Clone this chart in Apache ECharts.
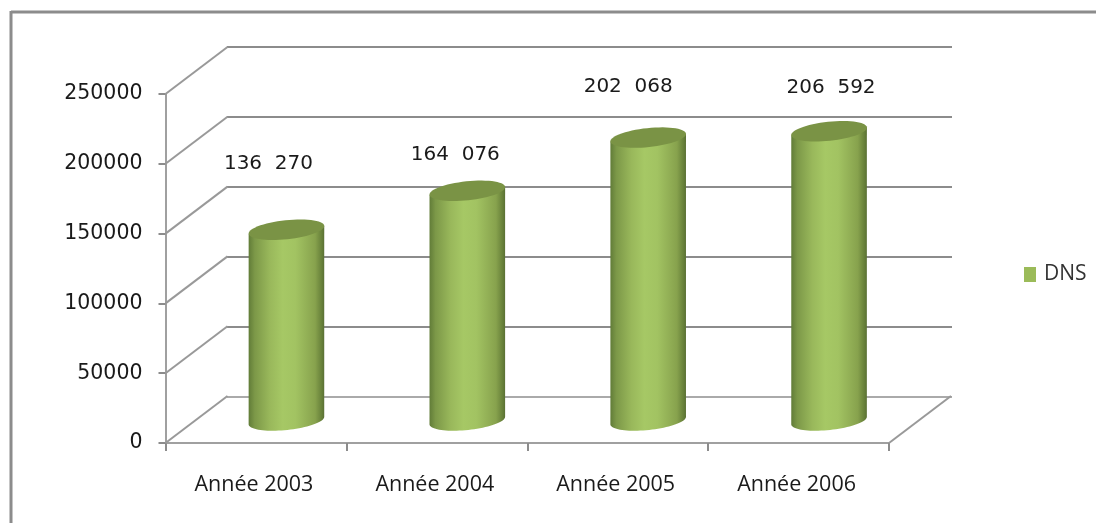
<!DOCTYPE html>
<html><head><meta charset="utf-8">
<style>html,body{margin:0;padding:0;background:#fff}#c{width:1096px;height:523px}</style>
<script src="https://cdn.jsdelivr.net/npm/echarts@6/dist/echarts.min.js"></script>
</head><body><div id="c"></div>
<script>
const categories = ['Année 2003', 'Année 2004', 'Année 2005', 'Année 2006'];
const dnsValues = [136270, 164076, 202068, 206592];
const dnsLabels = ['136  270', '164  076', '202  068', '206  592'];
const yTicks = [0, 50000, 100000, 150000, 200000, 250000];

// layout of the pseudo-3D box
const depthX = 62, depthY = -47;
const rx = 38, ry = 9.5, tilt = 6 * Math.PI / 180;
const labelNudge = [[-18, -66], [-12, -36], [-20, -51], [2, -43]];
const font = '"Open Sans",sans-serif';
const numFont = '"DejaVu Sans",sans-serif';

function ell(cx, cy, t) {
  const x = rx * Math.cos(t), y = ry * Math.sin(t);
  return [cx + x * Math.cos(tilt) + y * Math.sin(tilt), cy - x * Math.sin(tilt) + y * Math.cos(tilt)];
}

const chart = echarts.init(document.getElementById('c'));
const axisBase = {min: 0, max: 250000, interval: 50000};
chart.setOption({
  animation: false,
  backgroundColor: '#fff',
  textStyle: {fontFamily: font},
  graphic: [
    {type: 'line', shape: {x1: 11, y1: 12, x2: 1096, y2: 12}, style: {stroke: '#8c8c8c', lineWidth: 3}},
    {type: 'line', shape: {x1: 11, y1: 11, x2: 11, y2: 523}, style: {stroke: '#8c8c8c', lineWidth: 3}}
  ],
  legend: {
    data: [{name: 'DNS', icon: 'rect'}], left: 1019, top: 259, itemWidth: 12, itemHeight: 15, itemGap: 8,
    textStyle: {fontSize: 21, color: '#333', fontFamily: font, padding: [0, 0, 0, 3]}
  },
  grid: [
    {left: 165.5, top: 94, width: 723.5, height: 349},
    {left: 227, top: 47, width: 725, height: 350},
    {left: 196, top: 70.5, width: 723.5, height: 350}
  ],
  xAxis: [
    {type: 'category', gridIndex: 0, data: categories,
     axisLine: {lineStyle: {color: '#a0a0a0', width: 2}},
     axisTick: {show: true, length: 8, alignWithLabel: false, lineStyle: {color: '#8c8c8c', width: 2}},
     axisLabel: {margin: 31, fontSize: 21.5, color: '#1a1a1a', fontFamily: font, padding: [0, 4, 0, 0]}},
    {type: 'category', gridIndex: 1, data: categories, show: false},
    {type: 'category', gridIndex: 2, data: categories, show: false}
  ],
  yAxis: [
    Object.assign({type: 'value', gridIndex: 0, splitLine: {show: false},
      axisLine: {show: true, lineStyle: {color: '#a0a0a0', width: 2}},
      axisTick: {show: true, length: 7, lineStyle: {color: '#8c8c8c', width: 2}},
      axisLabel: {margin: 23, fontSize: 20.5, color: '#1a1a1a', fontFamily: numFont, padding: [5, 0, 0, 0], formatter: v => String(v)}}, axisBase),
    Object.assign({type: 'value', gridIndex: 1, axisLine: {show: false}, axisTick: {show: false}, axisLabel: {show: false},
      splitLine: {show: true, lineStyle: {color: ['#aaaaaa', '#8c8c8c', '#8c8c8c', '#8c8c8c', '#8c8c8c', '#8c8c8c'], width: 2}}}, axisBase),
    Object.assign({type: 'value', gridIndex: 2, show: false, splitLine: {show: false}}, axisBase)
  ],
  series: [
    {
      type: 'custom', name: 'depth', xAxisIndex: 0, yAxisIndex: 0, z: 1, clip: false, silent: true,
      data: yTicks.map(v => [0, v]), encode: {x: 0, y: 1},
      renderItem(params, api) {
        const cs = params.coordSys;
        const y = api.coord([0, api.value(1)])[1];
        const style = {stroke: '#999', lineWidth: 2, fill: null};
        const kids = [{type: 'line', shape: {x1: cs.x, y1: y, x2: cs.x + depthX, y2: y + depthY}, style}];
        if (api.value(1) === 0) kids.push({type: 'line',
          shape: {x1: cs.x + cs.width, y1: y, x2: cs.x + cs.width + depthX, y2: y + depthY}, style});
        return {type: 'group', children: kids};
      }
    },
    {
      type: 'custom', name: 'DNS', xAxisIndex: 2, yAxisIndex: 2, z: 5, clip: false,
      itemStyle: {color: '#9bbb59'},
      data: dnsValues.map((v, i) => [i, v]), encode: {x: 0, y: 1},
      renderItem(params, api) {
        const i = params.dataIndex;
        const top = api.coord([i, api.value(1)]);
        const base = api.coord([i, 0]);
        const body = [];
        for (let k = 0; k <= 40; k++) body.push(ell(top[0], base[1], Math.PI * (1 - k / 40)));
        const poly = body.concat([ell(top[0], top[1], 0), ell(top[0], top[1], Math.PI)]);
        const grad = new echarts.graphic.LinearGradient(0, 0, 1, 0, [
          {offset: 0, color: '#617c38'}, {offset: 0.08, color: '#7c9848'}, {offset: 0.28, color: '#99b85b'},
          {offset: 0.45, color: '#a6c865'}, {offset: 0.62, color: '#a2c362'}, {offset: 0.88, color: '#87a24d'},
          {offset: 0.97, color: '#667f39'}, {offset: 1, color: '#5a7034'}
        ]);
        const capPts = [];
        for (let k = 0; k < 60; k++) capPts.push(ell(top[0], top[1], k / 60 * 2 * Math.PI));
        const n = labelNudge[i];
        return {type: 'group', children: [
          {type: 'polygon', shape: {points: poly}, style: {fill: grad}},
          {type: 'polygon', shape: {points: capPts}, style: {fill: '#7a9345'}},
          {type: 'text', style: {text: dnsLabels[i], x: top[0] + n[0], y: top[1] + n[1], align: 'center', verticalAlign: 'middle',
            font: '20px ' + numFont, fill: '#1a1a1a'}}
        ]};
      }
    }
  ]
});
</script></body></html>
